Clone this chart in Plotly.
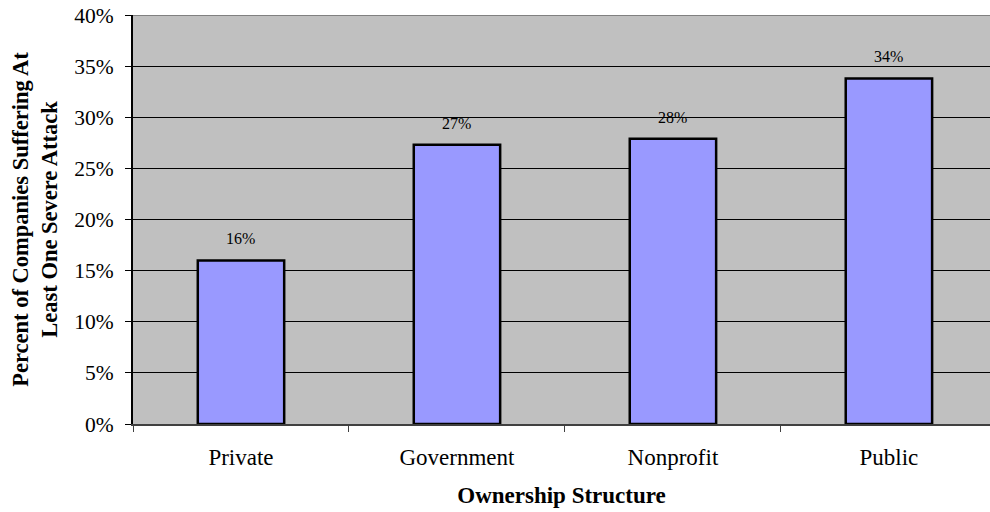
import plotly.graph_objects as go

# Share of companies with at least one severe attack, by ownership type
categories = ["Private", "Government", "Nonprofit", "Public"]
percent_attacked = [16.0, 27.3, 27.9, 33.8]
y_ticks = [0, 5, 10, 15, 20, 25, 30, 35, 40]
y_tick_text = [f"{v}%" for v in y_ticks]

SERIF = "Liberation Serif, Times New Roman, serif"

fig = go.Figure()
fig.add_trace(go.Bar(
    x=categories,
    y=percent_attacked,
    width=0.4,
    marker=dict(color="#9999FF", line=dict(color="#000000", width=2.5)),
    hoverinfo="skip",
))

# value labels above each bar
for cat, val in zip(categories, percent_attacked):
    fig.add_annotation(
        x=cat, y=val, text=f"{round(val):d}%", showarrow=False,
        yanchor="bottom", yshift=11,
        font=dict(family=SERIF, size=16, color="#000000"),
    )

# grey frame along the top of the plotting area
fig.add_shape(type="line", xref="paper", yref="y", x0=0, x1=1, y0=40, y1=40,
              line=dict(color="#808080", width=2))

fig.update_layout(
    width=990, height=512,
    margin=dict(l=133, r=0, t=15, b=88, autoexpand=False),
    paper_bgcolor="#FFFFFF",
    plot_bgcolor="#C0C0C0",
    showlegend=False,
    font=dict(family=SERIF, color="#000000"),
    xaxis=dict(
        type="category",
        range=[-0.5, 3.468],
        tickson="boundaries",
        ticks="outside", ticklen=6, tickcolor="#404040", tickwidth=1,
        showline=True, linecolor="#404040", linewidth=2,
        showgrid=False,
        tickfont=dict(family=SERIF, size=23),
        ticklabelstandoff=11,
        title=dict(text="<b>Ownership Structure</b>",
                   font=dict(family=SERIF, size=23), standoff=18),
        automargin=False,
    ),
    yaxis=dict(
        range=[0, 40],
        tickvals=y_ticks, ticktext=y_tick_text,
        ticks="outside", ticklen=6, tickcolor="#000000", tickwidth=1,
        showline=True, linecolor="#000000", linewidth=2,
        showgrid=True, gridcolor="#000000", gridwidth=1,
        zeroline=False,
        tickfont=dict(family=SERIF, size=21.5),
        ticklabelstandoff=7,
        title=dict(text="<b>Percent of Companies Suffering At<br>Least One Severe Attack</b>",
                   font=dict(family=SERIF, size=22.5), standoff=10),
        automargin=False,
    ),
)

fig.write_html("out.html")
